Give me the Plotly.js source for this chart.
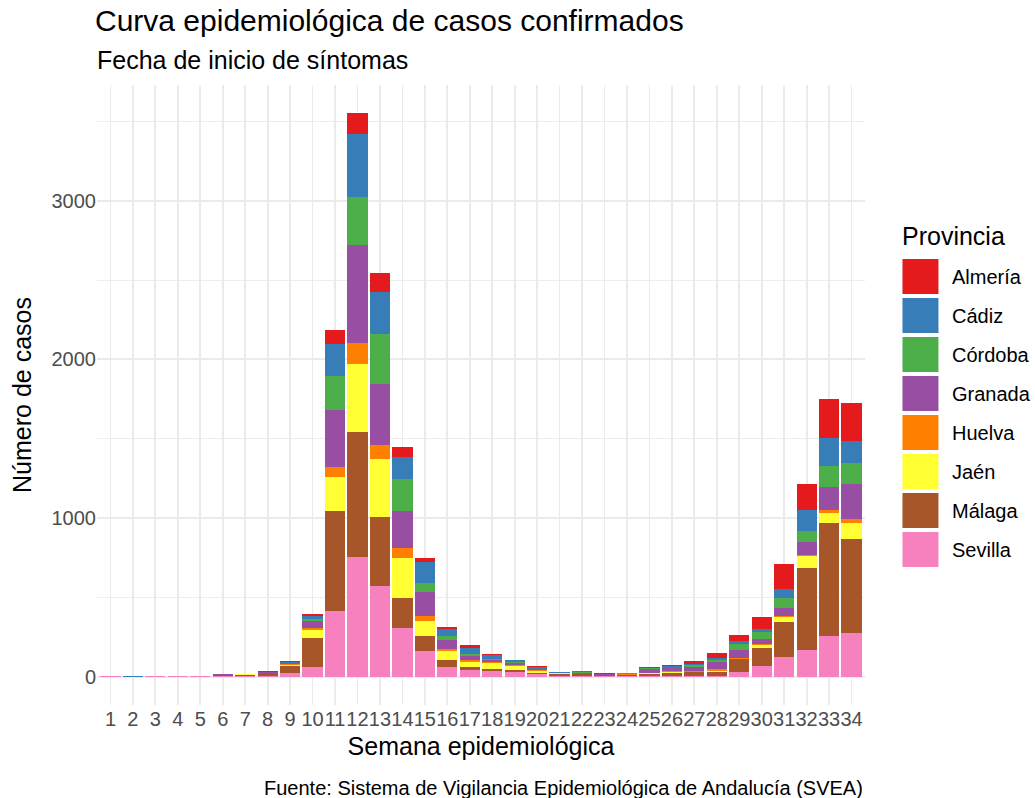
<!DOCTYPE html>
<html>
<head>
<meta charset="utf-8">
<script src="https://cdn.plot.ly/plotly-3.0.1.min.js"></script>
<style>
  html, body { margin: 0; padding: 0; background: #ffffff; }
  #chart { width: 1035px; height: 798px; }
</style>
</head>
<body>
<div id="chart"></div>
<script>
// ---- Data ----
const weeks = ['1','2','3','4','5','6','7','8','9','10','11','12','13','14','15','16','17','18','19','20','21','22','23','24','25','26','27','28','29','30','31','32','33','34'];

const provinces = ['Almería','Cádiz','Córdoba','Granada','Huelva','Jaén','Málaga','Sevilla'];
const provinceColors = ['#E41A1C','#377EB8','#4DAF4A','#984EA3','#FF7F00','#FFFF33','#A65628','#F781BF'];

const almeria = [0,0,0,0,0,3,0,2,4,10,90,133,119,63,25,17,19,6,4,3,2,2,2,0,4,4,18,34,36,73,158,162,245,237];
const cadiz   = [0,5,0,0,0,0,2,3,8,21,199,397,264,143,132,40,37,24,9,15,2,6,3,0,3,4,8,9,20,21,58,132,174,142];
const cordoba = [0,0,0,0,0,0,0,0,3,15,216,298,315,203,52,25,15,6,10,2,1,2,0,4,3,3,8,12,38,42,63,73,130,130];
const granada = [0,0,0,0,0,2,0,6,4,44,360,623,388,231,155,59,21,11,8,5,2,8,5,2,28,28,30,46,53,31,46,78,147,220];
const huelva  = [0,0,0,0,0,0,2,0,5,8,59,131,88,65,32,15,17,10,10,3,1,1,0,1,1,4,3,12,2,7,11,10,22,27];
const jaen    = [0,0,0,0,0,1,4,1,8,53,218,426,363,251,94,52,31,36,20,17,2,1,0,2,2,3,4,8,2,21,27,75,63,99];
const malaga  = [0,0,1,1,1,8,8,18,42,184,629,786,438,187,91,48,21,14,17,7,12,10,6,8,16,22,20,22,84,109,224,514,711,591];
const sevilla = [3,1,4,4,4,4,3,5,25,61,413,757,570,308,165,61,40,36,29,15,8,6,5,4,4,5,8,8,29,71,124,170,256,277];

const seriesValues = [almeria, cadiz, cordoba, granada, huelva, jaen, malaga, sevilla];

const yTickVals = [0, 1000, 2000, 3000];
const yTickText = ['0', '1000', '2000', '3000'];
const yMinorVals = [500, 1500, 2500, 3500];

// ---- Layout geometry (pixels) ----
const W = 1035, H = 798;
const M = {l: 97, r: 169.5, t: 85, b: 93};
const PW = W - M.l - M.r, PH = H - M.t - M.b;
const px2x = px => (px - M.l) / PW;
const py2y = py => (H - M.b - py) / PH;

const FONT = 'Liberation Sans, Arial, sans-serif';

// stacking: Sevilla bottom ... Almería top
const traces = [];
for (let i = provinces.length - 1; i >= 0; i--) {
  traces.push({
    type: 'bar',
    name: provinces[i],
    x: weeks,
    y: seriesValues[i],
    marker: {color: provinceColors[i], line: {width: 0}},
    showlegend: false,
    hovertemplate: provinces[i] + ' semana %{x}: %{y}<extra></extra>'
  });
}

// custom ggplot-style legend
const shapes = [];
const annotations = [];
annotations.push({
  xref: 'paper', yref: 'paper', x: px2x(901), y: py2y(236),
  xanchor: 'left', yanchor: 'middle', showarrow: false,
  text: 'Provincia', font: {family: FONT, size: 25, color: '#000000'}
});
provinces.forEach((p, i) => {
  const top = 259 + i * 39;
  shapes.push({
    type: 'rect', xref: 'paper', yref: 'paper',
    x0: px2x(903), x1: px2x(939), y0: py2y(top + 35), y1: py2y(top),
    fillcolor: provinceColors[i], line: {width: 0}
  });
  annotations.push({
    xref: 'paper', yref: 'paper', x: px2x(951), y: py2y(top + 17.5),
    xanchor: 'left', yanchor: 'middle', showarrow: false,
    text: p, font: {family: FONT, size: 20, color: '#000000'}
  });
});

// subtitle
annotations.push({
  xref: 'paper', yref: 'paper', x: px2x(95), y: py2y(60),
  xanchor: 'left', yanchor: 'middle', showarrow: false,
  text: 'Fecha de inicio de síntomas', font: {family: FONT, size: 25, color: '#000000'}
});
// caption
annotations.push({
  xref: 'paper', yref: 'paper', x: px2x(866), y: py2y(788),
  xanchor: 'right', yanchor: 'middle', showarrow: false,
  text: 'Fuente: Sistema de Vigilancia Epidemiológica de Andalucía (SVEA)',
  font: {family: FONT, size: 20, color: '#000000'}
});

const layout = {
  width: W, height: H,
  margin: M,
  paper_bgcolor: '#ffffff', plot_bgcolor: '#ffffff',
  barmode: 'stack',
  bargap: 0.1,
  showlegend: false,
  font: {family: FONT},
  title: {
    text: 'Curva epidemiológica de casos confirmados',
    font: {family: FONT, size: 30, color: '#000000'},
    xref: 'container', yref: 'container',
    x: 95 / W, xanchor: 'left',
    y: 1 - 20 / H, yanchor: 'middle'
  },
  xaxis: {
    type: 'category',
    range: [-0.6, weeks.length - 0.4],
    tickmode: 'array', tickvals: weeks, ticktext: weeks,
    showgrid: true, gridcolor: '#EBEBEB', gridwidth: 1.8,
    zeroline: false, showline: false, ticks: '',
    tickfont: {family: FONT, size: 20, color: '#4D4D4D'},
    tickangle: 0,
    title: {text: 'Semana epidemiológica', font: {family: FONT, size: 25, color: '#000000'}, standoff: 8},
    fixedrange: true
  },
  yaxis: {
    range: [-177.5, 3728.5],
    tickmode: 'array', tickvals: yTickVals, ticktext: yTickText,
    showgrid: true, gridcolor: '#EBEBEB', gridwidth: 1.8,
    minor: {tickmode: 'array', tickvals: yMinorVals, showgrid: true, gridcolor: '#EDEDED', gridwidth: 1},
    zeroline: false, showline: false, ticks: '',
    tickfont: {family: FONT, size: 20, color: '#4D4D4D'},
    title: {text: 'Número de casos', font: {family: FONT, size: 25, color: '#000000'}, standoff: 12},
    fixedrange: true
  },
  shapes: shapes,
  annotations: annotations
};

Plotly.newPlot('chart', traces, layout, {displayModeBar: false, staticPlot: true});
</script>
</body>
</html>
